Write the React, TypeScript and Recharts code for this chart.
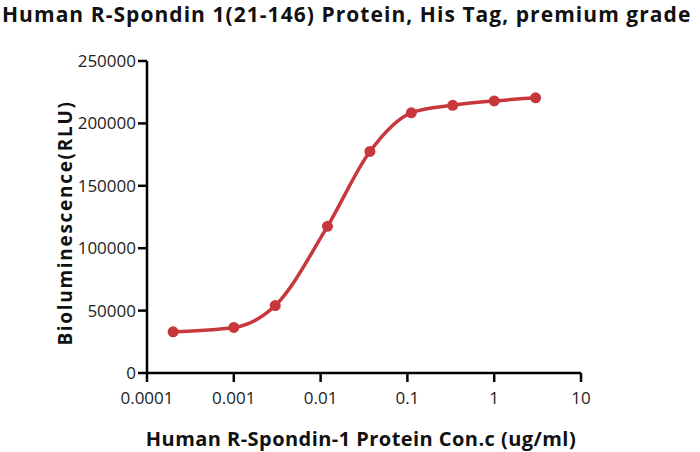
import { LineChart, Line, XAxis, YAxis } from "recharts";

const concentrations = [0.0002, 0.001, 0.003, 0.012, 0.037, 0.111, 0.333, 1, 3];
const rlu = [33000, 36500, 54000, 117500, 177500, 208500, 214500, 218000, 220500];
const xTicks = [0.0001, 0.001, 0.01, 0.1, 1, 10];
const yTicks = [0, 50000, 100000, 150000, 200000, 250000];

const data = concentrations.map((c, i) => ({ conc: c, rlu: rlu[i] }));

const red = "#c8373b";
const font = "'Open Sans', sans-serif";
const tickStyle = { fontSize: 17, fill: "#222", fontFamily: font };

function YTitle({ viewBox }: any) {
  const cx = viewBox.x + viewBox.width - 82;
  const cy = viewBox.y + viewBox.height / 2 + 6;
  return (
    <text
      x={cx}
      y={cy}
      transform={`rotate(-90 ${cx} ${cy})`}
      textAnchor="middle"
      dominantBaseline="central"
      style={{ fontSize: 19, fontWeight: 700, fontFamily: font, letterSpacing: 1.7 }}
      fill="#111"
    >
      Bioluminescence(RLU)
    </text>
  );
}

function XTitle({ viewBox }: any) {
  const cx = viewBox.x + viewBox.width / 2 - 3;
  const cy = viewBox.y + 65;
  return (
    <text
      x={cx}
      y={cy}
      textAnchor="middle"
      dominantBaseline="central"
      style={{ fontSize: 20, fontWeight: 700, fontFamily: font, letterSpacing: 0.45 }}
      fill="#111"
    >
      Human R-Spondin-1 Protein Con.c (ug/ml)
    </text>
  );
}

export default function App() {
  return (
    <div style={{ position: "absolute", left: 0, top: 0, width: 700, height: 452, background: "#fff" }}>
      <div
        style={{
          position: "absolute",
          left: 2,
          top: 0,
          fontFamily: font,
          fontWeight: 700,
          fontSize: 21,
          letterSpacing: 1.05,
          lineHeight: "28px",
          color: "#111",
          whiteSpace: "nowrap",
        }}
      >
        Human R-Spondin 1(21-146) Protein, His Tag, premium grade
      </div>
      <LineChart
        width={700}
        height={452}
        data={data}
        margin={{ top: 61, right: 119, bottom: 49, left: 67 }}
      >
        <XAxis
          dataKey="conc"
          type="number"
          scale="log"
          domain={[0.0001, 10]}
          ticks={xTicks}
          tickFormatter={(v: number) => String(v)}
          allowDataOverflow
          height={30}
          axisLine={{ stroke: "#000", strokeWidth: 2.5 }}
          tickLine={{ stroke: "#000", strokeWidth: 2.5 }}
          tickSize={9}
          tickMargin={10}
          tick={tickStyle}
          label={<XTitle />}
        />
        <YAxis
          type="number"
          domain={[0, 250000]}
          ticks={yTicks}
          width={80}
          axisLine={{ stroke: "#000", strokeWidth: 2.5 }}
          tickLine={{ stroke: "#000", strokeWidth: 2.5 }}
          tickSize={9}
          tickMargin={2}
          tick={tickStyle}
          label={<YTitle />}
        />
        <Line
          type="monotone"
          dataKey="rlu"
          stroke={red}
          strokeWidth={3.5}
          dot={{ r: 5.5, fill: red, stroke: red, strokeWidth: 0 }}
          isAnimationActive={false}
        />
      </LineChart>
    </div>
  );
}
